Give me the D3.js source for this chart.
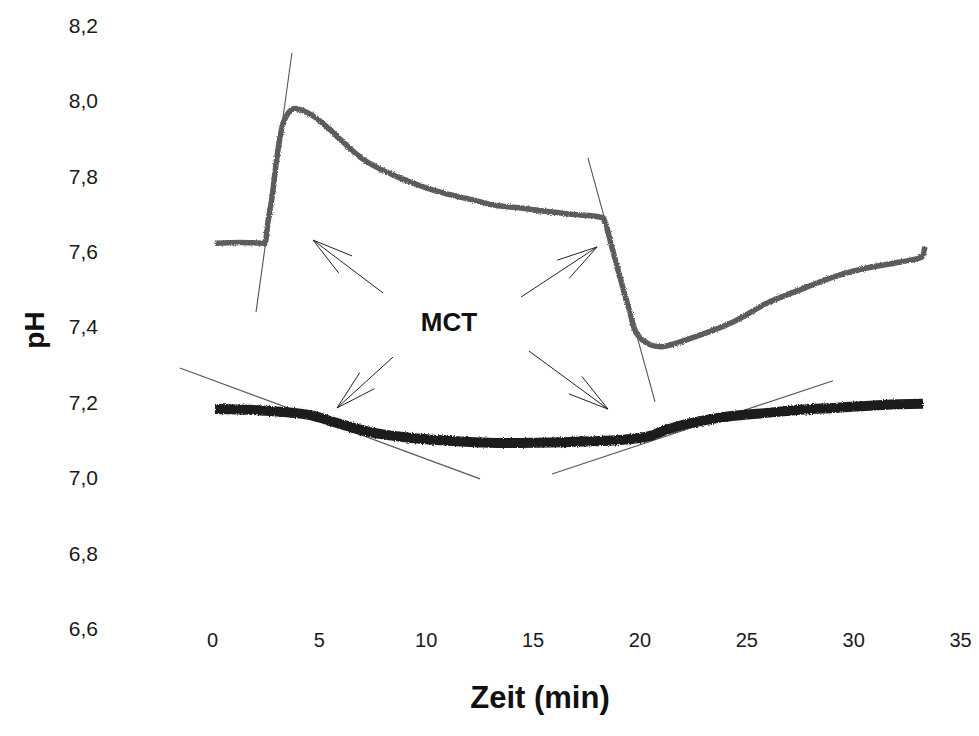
<!DOCTYPE html>
<html>
<head>
<meta charset="utf-8">
<script src="https://cdn.jsdelivr.net/npm/d3@7"></script>
<style>
  html, body { margin: 0; padding: 0; background: #fff; }
  svg { display: block; font-family: "Liberation Sans", Arial, sans-serif; }
</style>
</head>
<body>
<svg id="chart" width="979" height="736"></svg>
<script>
// Time axis (min) and pH axis ticks
const xTicks = [0, 5, 10, 15, 20, 25, 30, 35];
const yTicks = [6.6, 6.8, 7.0, 7.2, 7.4, 7.6, 7.8, 8.0, 8.2];

// Upper trace (grey): pH over time
const greyTime = [0.14, 1.3, 2.48, 2.62, 2.81, 3.04, 3.28, 3.51, 3.88, 4.26, 4.59, 5.38, 6.13, 6.93, 7.67, 8.47, 9.27, 10.06, 10.81, 11.61, 12.40, 13.15, 13.94, 14.74, 15.49, 16.29, 17.08, 17.83, 18.30, 18.44, 18.72, 19.00, 19.28, 19.56, 19.75, 20.03, 20.36, 20.73, 21.06, 21.43, 21.90, 22.83, 24.38, 25.97, 27.51, 29.06, 30.65, 32.20, 33.22, 33.36];
const greyPH   = [7.623, 7.625, 7.623, 7.679, 7.745, 7.851, 7.931, 7.963, 7.980, 7.974, 7.965, 7.931, 7.891, 7.851, 7.825, 7.804, 7.785, 7.769, 7.756, 7.745, 7.735, 7.724, 7.719, 7.714, 7.708, 7.703, 7.698, 7.695, 7.690, 7.671, 7.610, 7.552, 7.494, 7.438, 7.398, 7.372, 7.358, 7.350, 7.348, 7.353, 7.361, 7.379, 7.414, 7.464, 7.499, 7.533, 7.557, 7.573, 7.586, 7.613];

// Lower trace (black): pH over time
const blackTime = [0.14, 2.71, 4.59, 5.85, 7.39, 8.94, 10.53, 13.62, 16.75, 19.09, 20.64, 20.96, 22.04, 23.63, 25.97, 27.52, 29.06, 31.40, 33.27];
const blackPH   = [7.183, 7.178, 7.167, 7.146, 7.122, 7.109, 7.101, 7.093, 7.096, 7.101, 7.114, 7.122, 7.141, 7.159, 7.173, 7.181, 7.186, 7.194, 7.197];

// Tangent lines fitted to the transitions: [t1, pH1, t2, pH2]
const tangents = [
  [3.74, 8.127, 2.06, 7.440],
  [17.59, 7.849, 20.73, 7.202],
  [-1.50, 7.292, 12.54, 6.998],
  [15.91, 7.011, 29.06, 7.258]
];

// Arrows from the "MCT" label to the transitions: [tailT, tailPH, tipT, tipPH]
const arrows = [
  [8.00, 7.491, 4.73, 7.631],
  [14.46, 7.480, 18.02, 7.613],
  [8.47, 7.321, 5.85, 7.186],
  [14.83, 7.337, 18.53, 7.183]
];

const labelText = "MCT";
const labelPos = [11.09, 7.414];

const svg = d3.select("#chart");
const x = d3.scaleLinear().domain([0, 35]).range([212, 960]);
const y = d3.scaleLinear().domain([6.6, 8.2]).range([629, 25.5]);

const comma = v => d3.format(".1f")(v).replace(".", ",");

// Slight roughness for the recorded traces
const defs = svg.append("defs");
const rough = defs.append("filter").attr("id", "rough")
  .attr("x", "-5%").attr("y", "-20%").attr("width", "110%").attr("height", "140%");
rough.append("feTurbulence").attr("type", "fractalNoise")
  .attr("baseFrequency", "0.9").attr("numOctaves", 2).attr("seed", 3).attr("result", "noise");
rough.append("feDisplacementMap").attr("in", "SourceGraphic").attr("in2", "noise")
  .attr("scale", 3).attr("xChannelSelector", "R").attr("yChannelSelector", "G");

// Y axis: labels only
const yAxis = svg.append("g")
  .attr("transform", "translate(101,0)")
  .call(d3.axisLeft(y).tickValues(yTicks).tickSize(0).tickPadding(3).tickFormat(comma));
yAxis.select(".domain").remove();
yAxis.selectAll("text").attr("font-size", 21).attr("fill", "#1a1a1a")
  .attr("font-family", "Liberation Sans, Arial, sans-serif");

// X axis: labels only
const xAxis = svg.append("g")
  .attr("transform", "translate(0,630)")
  .call(d3.axisBottom(x).tickValues(xTicks).tickSize(0).tickPadding(3));
xAxis.select(".domain").remove();
xAxis.selectAll("text").attr("font-size", 20).attr("fill", "#1a1a1a")
  .attr("font-family", "Liberation Sans, Arial, sans-serif");

// Axis titles
svg.append("text")
  .attr("x", 540).attr("y", 708)
  .attr("text-anchor", "middle")
  .attr("font-size", 31).attr("font-weight", "bold").attr("fill", "#111")
  .text("Zeit (min)");

svg.append("text")
  .attr("transform", "translate(44,330) rotate(-90)")
  .attr("text-anchor", "middle")
  .attr("font-size", 28).attr("font-weight", "bold").attr("fill", "#111")
  .text("pH");

// Tangent lines
svg.append("g").selectAll("line").data(tangents).join("line")
  .attr("x1", d => x(d[0])).attr("y1", d => y(d[1]))
  .attr("x2", d => x(d[2])).attr("y2", d => y(d[3]))
  .attr("stroke", "#555").attr("stroke-width", 1.1);

// Traces
const line = d3.line().curve(d3.curveMonotoneX).x(d => x(d[0])).y(d => y(d[1]));
svg.append("path")
  .datum(greyTime.map((t, i) => [t, greyPH[i]]))
  .attr("d", line).attr("fill", "none").attr("filter", "url(#rough)")
  .attr("stroke", "#5c5c5c").attr("stroke-width", 5.5).attr("stroke-linejoin", "round");
svg.append("path")
  .datum(blackTime.map((t, i) => [t, blackPH[i]]))
  .attr("d", line).attr("fill", "none").attr("filter", "url(#rough)")
  .attr("stroke", "#1c1c1c").attr("stroke-width", 10).attr("stroke-linejoin", "round");

// Arrows with open heads
const headLen = 42, headAngle = 15 * Math.PI / 180;
const ag = svg.append("g").attr("stroke", "#222").attr("stroke-width", 1).attr("fill", "none");
arrows.forEach(a => {
  const x0 = x(a[0]), y0 = y(a[1]), x1 = x(a[2]), y1 = y(a[3]);
  const ang = Math.atan2(y0 - y1, x0 - x1);
  ag.append("line").attr("x1", x0).attr("y1", y0).attr("x2", x1).attr("y2", y1);
  [-headAngle, headAngle].forEach(s => {
    ag.append("line")
      .attr("x1", x1).attr("y1", y1)
      .attr("x2", x1 + headLen * Math.cos(ang + s))
      .attr("y2", y1 + headLen * Math.sin(ang + s));
  });
});

// Label
svg.append("text")
  .attr("x", x(labelPos[0])).attr("y", y(labelPos[1]))
  .attr("text-anchor", "middle").attr("dominant-baseline", "central")
  .attr("font-size", 26).attr("font-weight", "bold").attr("fill", "#111")
  .text(labelText);
</script>
</body>
</html>
